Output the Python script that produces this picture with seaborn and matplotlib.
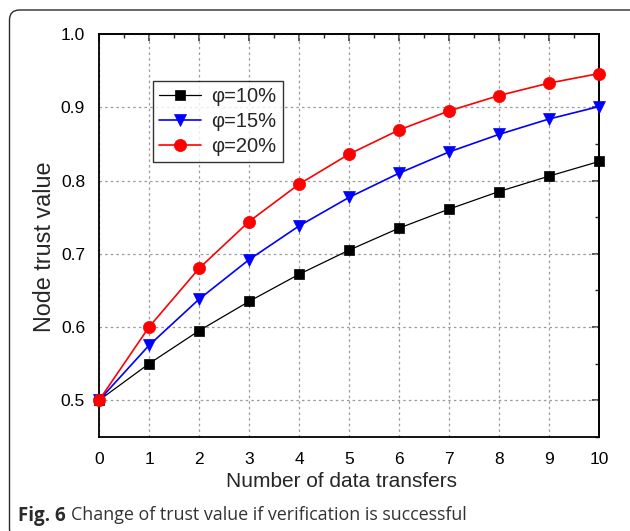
import matplotlib
matplotlib.use("Agg")
import matplotlib.pyplot as plt
import seaborn as sns
import pandas as pd
from matplotlib.patches import FancyBboxPatch
from matplotlib.ticker import MultipleLocator

# Trust value after each successful data transfer, for three values of phi
transfers = [0, 1, 2, 3, 4, 5, 6, 7, 8, 9, 10]
trust_phi10 = [0.500, 0.550, 0.595, 0.635, 0.672, 0.705, 0.735, 0.761, 0.785, 0.806, 0.826]
trust_phi15 = [0.500, 0.575, 0.638, 0.692, 0.738, 0.777, 0.810, 0.839, 0.863, 0.884, 0.901]
trust_phi20 = [0.500, 0.600, 0.680, 0.744, 0.795, 0.836, 0.869, 0.895, 0.916, 0.933, 0.946]
series_labels = ["φ=10%", "φ=15%", "φ=20%"]
x_ticks = [0, 1, 2, 3, 4, 5, 6, 7, 8, 9, 10]
y_ticks = [0.5, 0.6, 0.7, 0.8, 0.9, 1.0]

sns.set_theme(style="white")
plt.rcParams["font.family"] = ["Liberation Sans", "DejaVu Sans"]

W, H = 630, 531
fig = plt.figure(figsize=(W / 100, H / 100), dpi=100)
fig.patch.set_facecolor("white")

# outer rounded frame around figure and caption (inch units keep corners round)
frame = FancyBboxPatch((0.095, -0.08), 6.40, 5.29,
                       boxstyle="round,pad=0,rounding_size=0.10",
                       transform=fig.dpi_scale_trans, facecolor="none",
                       edgecolor="#2a2a2a", linewidth=1.0)
fig.patches.append(frame)

ax = fig.add_axes([99 / W, 1 - 437 / H, 500 / W, 403 / H])

df = pd.DataFrame({
    "x": transfers * 3,
    "y": trust_phi10 + trust_phi15 + trust_phi20,
    "series": [series_labels[0]] * 11 + [series_labels[1]] * 11 + [series_labels[2]] * 11,
})
palette = {series_labels[0]: "black", series_labels[1]: "#0000ff", series_labels[2]: "#ff0000"}
markers = {series_labels[0]: "s", series_labels[1]: "v", series_labels[2]: "o"}
sizes = {series_labels[0]: 7.8, series_labels[1]: 9.2, series_labels[2]: 8.8}
lws = {series_labels[0]: 0.9, series_labels[1]: 1.2, series_labels[2]: 1.2}

for lab in series_labels:
    sub = df[df["series"] == lab]
    sns.lineplot(data=sub, x="x", y="y", ax=ax, color=palette[lab],
                 marker=markers[lab], markersize=sizes[lab],
                 markeredgecolor=palette[lab], markeredgewidth=0.5,
                 linewidth=lws[lab], label=lab, zorder=3, clip_on=False)

ax.set_xlim(0, 10)
ax.set_ylim(0.45, 1.0)
ax.set_xticks(x_ticks)
ax.set_yticks(y_ticks)
ax.set_yticklabels([f"{v:.1f}" for v in y_ticks])
ax.xaxis.set_minor_locator(MultipleLocator(0.5))
ax.yaxis.set_minor_locator(MultipleLocator(0.05))

ax.grid(True, which="major", color="#9a9a9a", linestyle=(0, (2.0, 2.5)), linewidth=0.9)
for s in ax.spines.values():
    s.set_visible(True)
    s.set_color("black")
    s.set_linewidth(1.3)

ax.tick_params(axis="both", which="major", direction="out", length=5, width=1.1,
               labelsize=12.5, colors="black")
ax.tick_params(axis="x", which="major", pad=6)
ax.tick_params(axis="y", which="major", pad=5)
ax.tick_params(axis="both", which="minor", direction="out", length=3, width=1.0)
ax.tick_params(top=False, right=False, which="both")

# inward ticks on the top and right edges
top = ax.secondary_xaxis("top")
top.set_xticks(x_ticks)
top.xaxis.set_minor_locator(MultipleLocator(0.5))
top.tick_params(which="major", direction="in", length=5, width=1.1, labeltop=False)
top.tick_params(which="minor", direction="in", length=3, width=1.0)
top.spines["top"].set_linewidth(1.3)
right = ax.secondary_yaxis("right")
right.set_yticks(y_ticks)
right.yaxis.set_minor_locator(MultipleLocator(0.05))
right.tick_params(which="major", direction="in", length=5, width=1.1, labelright=False)
right.tick_params(which="minor", direction="in", length=3, width=1.0)
right.spines["right"].set_linewidth(1.3)

ax.set_xlabel("Number of data transfers", fontsize=15)
ax.set_ylabel("Node trust value", fontsize=16.8)
ax.xaxis.set_label_coords(0.484, -0.087)
ax.yaxis.set_label_coords(-0.086, 0.471)

leg = ax.legend(loc="upper left", bbox_to_anchor=(153 / W, 1 - 81 / H),
                bbox_transform=fig.transFigure, borderaxespad=0, frameon=True,
                fancybox=False, edgecolor="black", fontsize=14.5, handlelength=2.1,
                handletextpad=0.5, labelspacing=0.3, borderpad=0.3)
leg.get_frame().set_linewidth(1.0)
leg.set_zorder(5)

# caption
cap_y = 1 - 520.5 / H
t1 = fig.text(18 / W, cap_y, "Fig. 6", fontsize=13.5, fontweight="bold",
              family="Open Sans", color="#2b2b2b", va="baseline")
fig.canvas.draw()
bb = t1.get_window_extent()
fig.text((bb.x1 + 5) / W, cap_y, "Change of trust value if verification is successful",
         fontsize=12.9, family="Open Sans", color="#333333", va="baseline")

fig.savefig("out.png", dpi=100)
